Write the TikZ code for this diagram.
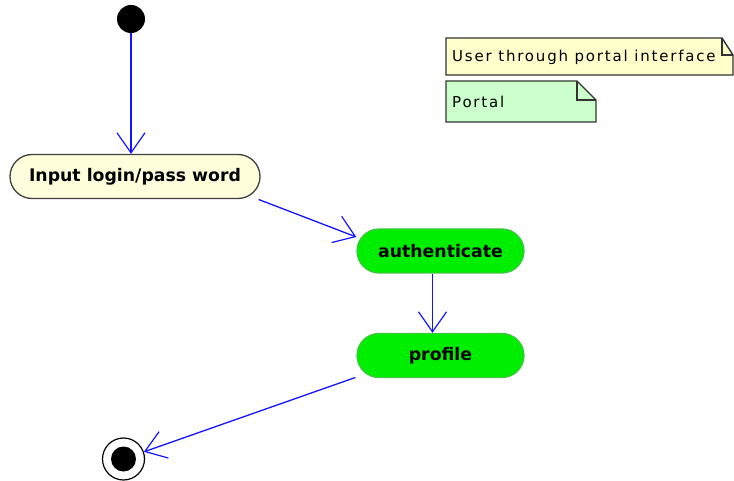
\documentclass[tikz,border=0pt]{standalone}
\usepackage{fontspec}
\setmainfont{DejaVu Sans}
\newfontfamily\notefont[LetterSpace=12]{DejaVu Sans}
\usetikzlibrary{shapes.misc,arrows.meta}
\definecolor{lineblue}{RGB}{20,20,255}
\definecolor{yellowfill}{RGB}{255,255,220}
\definecolor{stategreen}{RGB}{0,238,0}
\definecolor{stateedge}{RGB}{60,200,60}
\definecolor{notegreen}{RGB}{204,255,204}
\definecolor{noteyellow}{RGB}{255,255,204}
\tikzset{
  arr/.style={draw=lineblue, line width=1.3pt, -{Straight Barb[length=20pt,width=28pt,line width=1.2pt]}},
  statebox/.style={rounded rectangle, minimum height=44pt, inner sep=0pt, line width=1.3pt, font=\bfseries\fontsize{17.3}{19}\selectfont},
  notebox/.style={draw=black!80, line width=1.4pt},
  notetext/.style={anchor=west, inner sep=0pt, font=\notefont\fontsize{15}{17}\selectfont}
}
\begin{document}
\begin{tikzpicture}[x=1pt,y=-1pt]
\useasboundingbox (0,0) rectangle (734,481);
% start
\node[circle, fill=black, minimum size=28pt, inner sep=0pt] (start) at (131,19) {};
% states
\node[statebox, draw=black!75, fill=yellowfill, minimum width=250pt] (in) at (135,176.5) {Input login/pass word};
\node[statebox, draw=stateedge, fill=stategreen, minimum width=167pt] (auth) at (440.5,251) {authenticate};
\node[statebox, draw=stateedge, fill=stategreen, minimum width=167pt] (prof) at (440.5,355.5) {profile};
% final
\node[circle, draw=black, line width=1.2pt, fill=white, minimum size=42pt, inner sep=0pt] (fin) at (123.5,459) {};
\node[circle, fill=black, minimum size=25pt, inner sep=0pt] (finin) at (fin.center) {};
% connectors
\draw[arr] (start) -- (start |- in.north);
\draw[arr] ([xshift=-2pt,yshift=-23pt]in.east) -- ([yshift=14pt]auth.west);
\draw[arr] ([xshift=-8pt]auth.south) -- ([xshift=-8pt]prof.north);
\draw[arr] ([xshift=-1pt,yshift=-22pt]prof.west) -- (fin);
% notes
\filldraw[notebox, fill=noteyellow] (446,38) -- (722,38) -- (733,55) -- (733,75) -- (446,75) -- cycle;
\draw[notebox] (722,38) -- (722,55) -- (733,55);
\node[notetext] (n1) at (452,57.5) {User through portal interface};
\filldraw[notebox, fill=notegreen] (446,81) -- (577,81) -- (596,100) -- (596,122) -- (446,122) -- cycle;
\draw[notebox] (577,81) -- (577,100) -- (596,100);
\node[notetext] (n2) at (452,102) {Portal};
\end{tikzpicture}
\end{document}
